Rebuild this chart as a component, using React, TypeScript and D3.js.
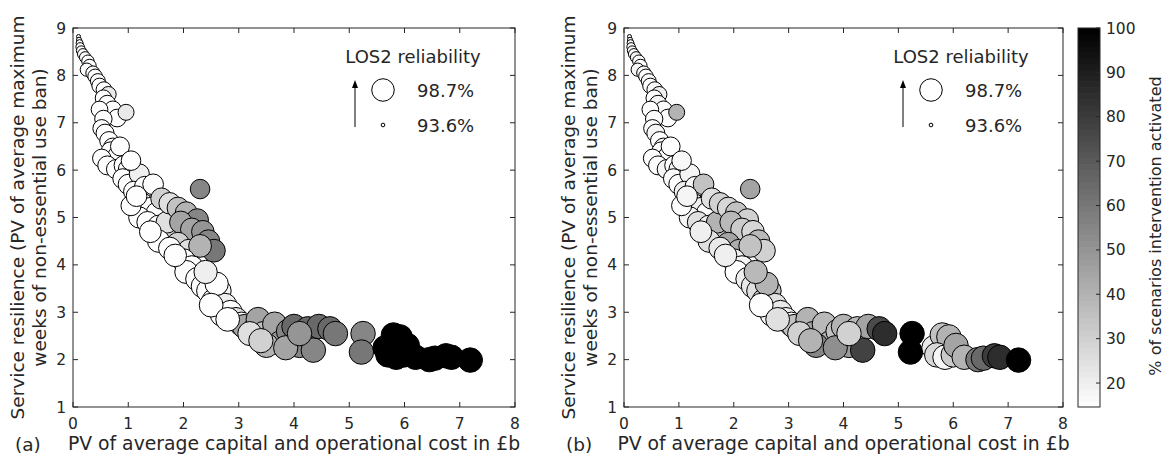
import React from 'react';
import * as d3 from 'd3';

// PV of average capital and operational cost (£b)
const costX = [
  0.10, 0.11, 0.12, 0.13, 0.15, 0.18, 0.22, 0.27, 0.30, 0.25, 0.36, 0.40, 0.45, 0.48, 0.56, 0.64, 0.55, 0.62, 0.72, 0.80,
  0.48, 0.96, 0.55, 0.52, 0.58, 0.65, 0.72, 0.68, 0.80, 0.52, 0.62, 0.78, 0.92, 1.00, 0.90, 1.00, 1.20, 1.10, 1.30, 1.45,
  1.25, 1.40, 1.52, 1.20, 1.35, 1.55, 1.65, 1.80, 1.70, 2.30, 1.60, 1.75, 1.90, 2.05, 2.25, 1.95, 2.15, 2.35, 2.45, 2.55,
  1.90, 2.10, 2.30, 1.55, 2.00, 2.15, 2.05, 2.25, 2.35, 2.45, 2.65, 2.55, 2.75, 2.70, 2.85, 2.95, 3.05, 2.60, 2.40, 3.10,
  3.30, 3.35, 3.45, 3.55, 3.65, 3.75, 3.90, 4.00, 4.10, 4.25, 4.35, 4.45, 4.65, 4.75, 3.20, 3.50, 3.85, 4.10, 5.25, 5.22,
  5.65, 5.80, 5.92, 5.70, 5.85, 6.00, 6.05, 6.20, 6.45, 6.55, 6.75, 6.85, 7.19, 1.05, 1.15, 1.40, 1.75, 1.85, 2.50, 2.80,
  3.40, 0.85, 1.05,
];
// Service resilience (PV of average maximum weeks of ban)
const resilienceY = [
  8.82, 8.75, 8.68, 8.60, 8.52, 8.45, 8.38, 8.30, 8.20, 8.12, 8.05, 7.98, 7.88, 7.78, 7.70, 7.60, 7.52, 7.40, 7.28, 7.10,
  7.28, 7.22, 7.08, 6.88, 6.78, 6.62, 6.48, 6.40, 6.30, 6.25, 6.10, 6.02, 6.10, 6.02, 5.82, 5.70, 5.92, 5.55, 5.65, 5.70,
  5.30, 5.20, 5.10, 5.00, 4.90, 4.82, 4.60, 4.55, 4.90, 5.60, 5.40, 5.30, 5.20, 5.10, 4.95, 4.90, 4.75, 4.70, 4.50, 4.30,
  4.45, 4.30, 4.40, 4.50, 4.10, 3.95, 3.85, 3.70, 3.55, 3.45, 3.45, 3.25, 3.15, 2.95, 3.00, 2.85, 2.75, 3.60, 3.85, 2.70,
  2.65, 2.85, 2.55, 2.45, 2.75, 2.35, 2.60, 2.70, 2.30, 2.65, 2.20, 2.70, 2.65, 2.55, 2.55, 2.30, 2.25, 2.55, 2.55, 2.16,
  2.25, 2.52, 2.48, 2.10, 2.05, 2.10, 2.30, 2.05, 2.00, 2.03, 2.08, 2.05, 1.99, 5.25, 5.45, 4.70, 4.35, 4.20, 3.15, 2.85,
  2.40, 6.50, 6.20,
];
// LOS2 reliability (%)
const reliability = [
  93.6, 93.7, 93.9, 94.1, 94.3, 94.5, 94.6, 94.8, 95.0, 95.0, 95.2, 95.3, 95.4, 95.5, 95.6, 95.6, 95.8, 96.0, 96.0, 96.2,
  95.9, 95.7, 96.1, 96.2, 96.3, 96.4, 96.5, 96.5, 96.6, 96.4, 96.6, 96.7, 96.8, 96.9, 96.9, 97.0, 97.0, 97.1, 97.2, 97.2,
  97.3, 97.4, 97.5, 97.4, 97.5, 97.6, 97.6, 97.7, 97.6, 96.8, 97.4, 97.5, 97.6, 97.7, 97.8, 97.8, 97.9, 97.9, 98.0, 98.0,
  97.9, 98.0, 98.0, 97.8, 98.0, 98.1, 98.1, 98.2, 98.2, 98.3, 98.3, 98.3, 98.4, 98.4, 98.4, 98.4, 98.5, 98.2, 98.2, 98.5,
  98.5, 98.5, 98.6, 98.6, 98.6, 98.6, 98.6, 98.7, 98.7, 98.7, 98.7, 98.7, 98.7, 98.7, 98.5, 98.6, 98.6, 98.7, 98.7, 98.7,
  98.7, 98.7, 98.7, 98.7, 98.7, 98.7, 98.7, 98.7, 98.7, 98.7, 98.7, 98.7, 98.7, 97.0, 97.2, 97.6, 97.8, 97.9, 98.4, 98.4,
  98.6, 96.6, 96.8,
];
// % of scenarios intervention activated, panel (a)
const pctA = [
  15, 15, 15, 15, 15, 15, 16, 15, 15, 15, 16, 15, 15, 15, 15, 22, 15, 15, 15, 15,
  15, 22, 15, 15, 15, 15, 15, 15, 15, 15, 15, 15, 15, 15, 15, 15, 20, 15, 15, 15,
  15, 15, 15, 15, 15, 15, 15, 30, 25, 55, 30, 25, 35, 40, 55, 45, 45, 50, 55, 60,
  30, 25, 40, 15, 15, 15, 15, 15, 15, 15, 18, 15, 20, 15, 15, 25, 15, 15, 20, 45,
  30, 45, 35, 40, 45, 50, 55, 65, 55, 65, 55, 65, 65, 60, 25, 40, 45, 50, 55, 60,
  100, 100, 100, 100, 100, 100, 100, 100, 100, 100, 100, 100, 100, 15, 15, 15, 15, 15, 15, 15,
  30, 15, 15,
];
// % of scenarios intervention activated, panel (b)
const pctB = [
  15, 15, 16, 15, 17, 15, 18, 16, 15, 18, 17, 15, 16, 15, 17, 20, 15, 18, 16, 15,
  15, 40, 16, 15, 18, 15, 17, 16, 15, 15, 16, 18, 15, 18, 16, 15, 18, 20, 17, 35,
  22, 20, 16, 18, 25, 20, 22, 35, 40, 45, 25, 30, 28, 35, 30, 38, 32, 28, 38, 30,
  45, 42, 35, 25, 20, 18, 15, 20, 22, 25, 35, 30, 25, 18, 22, 20, 15, 40, 38, 35,
  28, 40, 45, 50, 38, 42, 35, 40, 48, 38, 78, 45, 75, 85, 30, 55, 52, 30, 100, 100,
  22, 35, 40, 28, 18, 32, 45, 40, 60, 65, 80, 85, 100, 15, 18, 20, 22, 20, 15, 25,
  40, 15, 17,
];

const xTicks = [0, 1, 2, 3, 4, 5, 6, 7, 8];
const yTicks = [1, 2, 3, 4, 5, 6, 7, 8, 9];
const cbTicks = [20, 30, 40, 50, 60, 70, 80, 90, 100];
const legendRel = [98.7, 93.6];

const W = 1169;
const H = 458;
const TOP = 28;
const BOTTOM = 407;
const INK = '#262626';
const FONT = 'DejaVu Sans, Verdana, sans-serif';

const points = costX.map((x, i) => ({ x, y: resilienceY[i], rel: reliability[i], a: pctA[i], b: pctB[i] }));

const area = d3.scaleLinear().domain([93.6, 98.7]).range([4, 150]);
const radius = (r: number) => Math.sqrt(area(r));
const cDomain: [number, number] = [14.6, 100];
const gray = d3.scaleLinear<string>().domain(cDomain).range(['#ffffff', '#000000']).clamp(true);

type PanelProps = { left: number; right: number; tag: string; pick: (p: typeof points[number]) => number };

const Panel: React.FC<PanelProps> = ({ left, right, tag, pick }) => {
  const x = d3.scaleLinear().domain([0, 8]).range([left, right]);
  const y = d3.scaleLinear().domain([1, 9]).range([BOTTOM, TOP]);
  const tl = 5;
  const midY = (TOP + BOTTOM) / 2;
  const lx = right - 102;
  return (
    <g fontFamily={FONT} fill={INK}>
      <defs>
        <clipPath id={'clip' + tag}>
          <rect x={left} y={TOP} width={right - left} height={BOTTOM - TOP} />
        </clipPath>
      </defs>
      <g clipPath={`url(#clip${tag})`}>
        {points.map((p, i) => (
          <circle key={i} cx={x(p.x)} cy={y(p.y)} r={radius(p.rel)} fill={gray(pick(p))} stroke="#000" strokeWidth={1} />
        ))}
      </g>
      <rect x={left} y={TOP} width={right - left} height={BOTTOM - TOP} fill="none" stroke={INK} strokeWidth={1} />
      {xTicks.map(t => (
        <g key={'x' + t}>
          <line x1={x(t)} x2={x(t)} y1={BOTTOM} y2={BOTTOM - tl} stroke={INK} />
          <line x1={x(t)} x2={x(t)} y1={TOP} y2={TOP + tl} stroke={INK} />
          <text x={x(t)} y={BOTTOM + 22} textAnchor="middle" fontSize={15.5}>{t}</text>
        </g>
      ))}
      {yTicks.map(t => (
        <g key={'y' + t}>
          <line x1={left} x2={left + tl} y1={y(t)} y2={y(t)} stroke={INK} />
          <line x1={right} x2={right - tl} y1={y(t)} y2={y(t)} stroke={INK} />
          <text x={left - 7} y={y(t)} dy="0.36em" textAnchor="end" fontSize={15.5}>{t}</text>
        </g>
      ))}
      <text x={(left + right) / 2} y={450} textAnchor="middle" fontSize={18.8}>
        PV of average capital and operational cost in £b
      </text>
      <text transform={`translate(${left - 56},${midY}) rotate(-90)`} textAnchor="middle" dominantBaseline="central" fontSize={18.5}>
        Service resilience (PV of average maximum
      </text>
      <text transform={`translate(${left - 34},${midY}) rotate(-90)`} textAnchor="middle" dominantBaseline="central" fontSize={18.5}>
        weeks of non-essential use ban)
      </text>
      <text x={left - 58} y={451} fontSize={18.5}>{tag}</text>
      {/* size legend */}
      <text x={lx} y={63} textAnchor="middle" fontSize={18}>LOS2 reliability</text>
      {legendRel.map((r, i) => (
        <g key={'lg' + r}>
          <circle cx={lx - 30} cy={i === 0 ? 90 : 125} r={radius(r) * 0.92} fill="none" stroke="#000" />
          <text x={lx + 4} y={i === 0 ? 97 : 132} fontSize={18}>{r.toFixed(1)}%</text>
        </g>
      ))}
      <line x1={lx - 58} x2={lx - 58} y1={127} y2={87} stroke="#000" strokeWidth={1} />
      <path d={`M${lx - 58},80 L${lx - 61},88 L${lx - 55},88 Z`} fill="#000" />
    </g>
  );
};

const ColorBar: React.FC = () => {
  const c = d3.scaleLinear().domain(cDomain).range([BOTTOM, TOP]);
  const x0 = 1078;
  const w = 22;
  const steps = d3.range(0, 64);
  const step = (cDomain[1] - cDomain[0]) / 64;
  return (
    <g fontFamily={FONT} fill={INK}>
      {steps.map(s => {
        const v0 = cDomain[0] + s * step;
        return (
          <rect key={s} x={x0} y={c(v0 + step)} width={w} height={c(v0) - c(v0 + step) + 0.6}
            fill={gray(v0 + step / 2)} />
        );
      })}
      <rect x={x0} y={TOP} width={w} height={BOTTOM - TOP} fill="none" stroke={INK} />
      {cbTicks.map(t => (
        <g key={t}>
          <line x1={x0 + w} x2={x0 + w - 4} y1={c(t)} y2={c(t)} stroke={INK} />
          <text x={x0 + w + 6} y={c(t)} dy="0.36em" fontSize={15.5}>{t}</text>
        </g>
      ))}
      <text transform={`translate(1155,226) rotate(-90)`} textAnchor="middle" dominantBaseline="central" fontSize={16}>
        % of scenarios intervention activated
      </text>
    </g>
  );
};

export default function App() {
  return (
    <svg width={W} height={H} style={{ position: 'absolute', left: 0, top: 0, background: '#fff' }}>
      <rect width={W} height={H} fill="#fff" />
      <Panel left={73} right={515} tag="(a)" pick={p => p.a} />
      <Panel left={624} right={1063} tag="(b)" pick={p => p.b} />
      <ColorBar />
    </svg>
  );
}
